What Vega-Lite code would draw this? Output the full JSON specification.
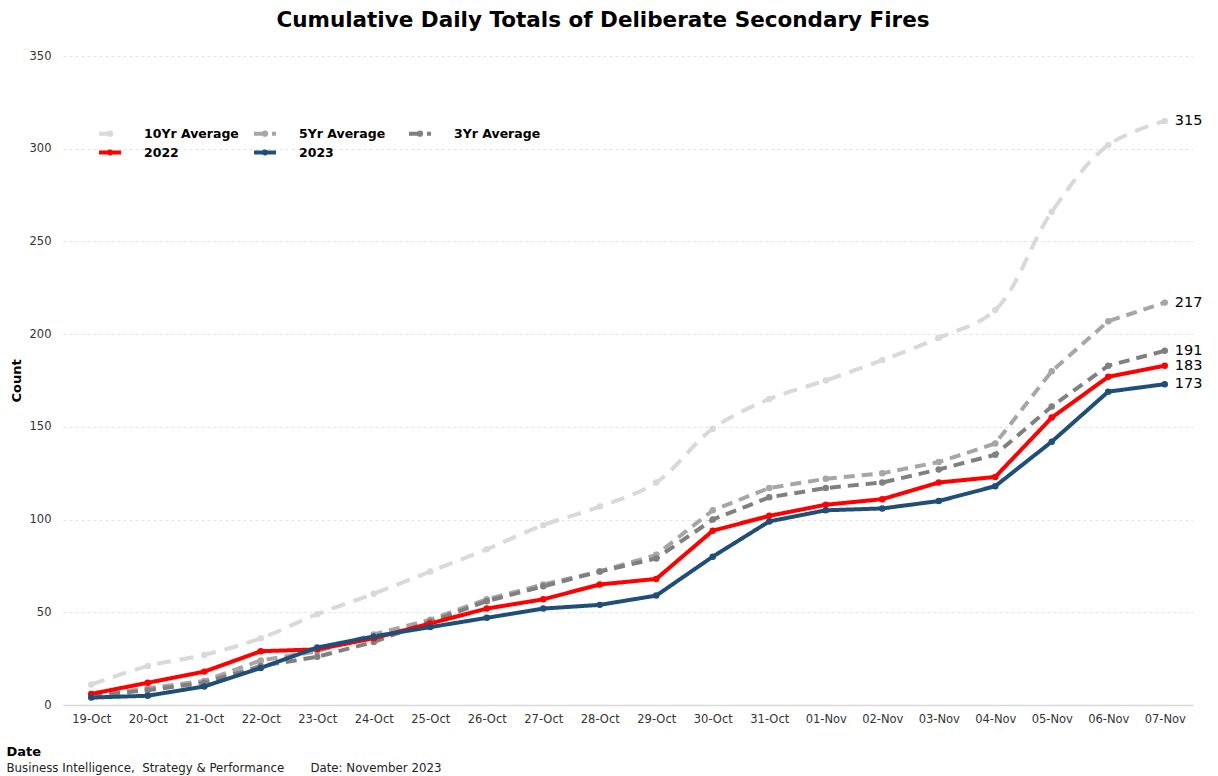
{
  "$schema": "https://vega.github.io/schema/vega-lite/v6.json",
  "width": 1130,
  "height": 649,
  "autosize": {"type": "none"},
  "padding": {"left": 63, "top": 56, "right": 25, "bottom": 71},
  "background": "white",
  "title": {"text": "Cumulative Daily Totals of Deliberate Secondary Fires", "font": "DejaVu Sans", "fontSize": 21.5, "fontWeight": "bold", "color": "#000000", "anchor": "middle", "dx": -25, "offset": 19},
  "config": {
    "view": {"stroke": null},
    "font": "DejaVu Sans",
    "legend": {
      "orient": "none", "legendX": 34, "legendY": 70, "columns": 3, "direction": "horizontal", "title": null,
      "gridAlign": "all",
      "labelFont": "DejaVu Sans", "labelFontSize": 12.5, "labelFontWeight": "bold", "labelColor": "#000000",
      "symbolType": "M-1,0H3M0.8,0a0.2,0.2 0 1,0 0.4,0a0.2,0.2 0 1,0 -0.4,0", "symbolSize": 121, "symbolStrokeWidth": 4,
      "symbolFillColor": "transparent",
      "columnPadding": 7, "rowPadding": 0, "labelOffset": 32
    }
  },
  "data": {"values": [
    {"date": "19-Oct", "10Yr Average": 11, "5Yr Average": 5, "3Yr Average": 5, "2022": 6, "2023": 4},
    {"date": "20-Oct", "10Yr Average": 21, "5Yr Average": 9, "3Yr Average": 8, "2022": 12, "2023": 5},
    {"date": "21-Oct", "10Yr Average": 27, "5Yr Average": 13, "3Yr Average": 12, "2022": 18, "2023": 10},
    {"date": "22-Oct", "10Yr Average": 36, "5Yr Average": 24, "3Yr Average": 21, "2022": 29, "2023": 20},
    {"date": "23-Oct", "10Yr Average": 49, "5Yr Average": 29, "3Yr Average": 26, "2022": 30, "2023": 31},
    {"date": "24-Oct", "10Yr Average": 60, "5Yr Average": 38, "3Yr Average": 34, "2022": 36, "2023": 37},
    {"date": "25-Oct", "10Yr Average": 72, "5Yr Average": 46, "3Yr Average": 45, "2022": 44, "2023": 42},
    {"date": "26-Oct", "10Yr Average": 84, "5Yr Average": 57, "3Yr Average": 56, "2022": 52, "2023": 47},
    {"date": "27-Oct", "10Yr Average": 97, "5Yr Average": 65, "3Yr Average": 64, "2022": 57, "2023": 52},
    {"date": "28-Oct", "10Yr Average": 107, "5Yr Average": 72, "3Yr Average": 72, "2022": 65, "2023": 54},
    {"date": "29-Oct", "10Yr Average": 120, "5Yr Average": 81, "3Yr Average": 79, "2022": 68, "2023": 59},
    {"date": "30-Oct", "10Yr Average": 149, "5Yr Average": 105, "3Yr Average": 100, "2022": 94, "2023": 80},
    {"date": "31-Oct", "10Yr Average": 165, "5Yr Average": 117, "3Yr Average": 112, "2022": 102, "2023": 99},
    {"date": "01-Nov", "10Yr Average": 175, "5Yr Average": 122, "3Yr Average": 117, "2022": 108, "2023": 105},
    {"date": "02-Nov", "10Yr Average": 186, "5Yr Average": 125, "3Yr Average": 120, "2022": 111, "2023": 106},
    {"date": "03-Nov", "10Yr Average": 198, "5Yr Average": 131, "3Yr Average": 127, "2022": 120, "2023": 110},
    {"date": "04-Nov", "10Yr Average": 213, "5Yr Average": 141, "3Yr Average": 135, "2022": 123, "2023": 118},
    {"date": "05-Nov", "10Yr Average": 266, "5Yr Average": 180, "3Yr Average": 161, "2022": 155, "2023": 142},
    {"date": "06-Nov", "10Yr Average": 302, "5Yr Average": 207, "3Yr Average": 183, "2022": 177, "2023": 169},
    {"date": "07-Nov", "10Yr Average": 315, "5Yr Average": 217, "3Yr Average": 191, "2022": 183, "2023": 173}
  ]},
  "transform": [{"fold": ["10Yr Average", "5Yr Average", "3Yr Average", "2022", "2023"], "as": ["series", "value"]}],
  "encoding": {
    "y": {
      "field": "value", "type": "quantitative",
      "scale": {"domain": [0, 350], "nice": false, "zero": true},
      "axis": {
        "title": "Count", "titleFontWeight": "bold", "titleFontSize": 13, "titleColor": "#000000", "titlePadding": 6,
        "values": [0, 50, 100, 150, 200, 250, 300, 350],
        "labelFontSize": 11.5, "labelColor": "#333333", "labelPadding": 12,
        "ticks": false, "domain": false, "grid": true, "gridColor": "#e3e3e3", "gridDash": [3, 3]
      }
    }
  },
  "layer": [
    {
      "transform": [{"filter": "datum.series != '10Yr Average'"}],
      "mark": {"type": "line", "strokeWidth": 4, "point": {"filled": true, "size": 42}},
      "encoding": {
        "x": {
          "field": "date", "type": "ordinal", "sort": null,
          "scale": {"type": "point", "padding": 0.5},
          "axis": {
            "title": "Date", "titleFontWeight": "bold", "titleFontSize": 13, "titleColor": "#000000",
            "titleAnchor": "start", "titleAlign": "left", "titleX": -57, "titleY": 50, "titleBaseline": "alphabetic",
            "labelAngle": 0, "labelFontSize": 11.5, "labelColor": "#333333", "labelPadding": 8,
            "ticks": false, "domainColor": "#d9d9d9", "domainWidth": 1.5, "grid": false
          }
        },
        "color": {
          "field": "series", "type": "nominal",
          "scale": {"domain": ["10Yr Average", "5Yr Average", "3Yr Average", "2022", "2023"], "range": ["#d9d9d9", "#a6a6a6", "#808080", "#ff0000", "#1f4e79"]}
        },
        "strokeDash": {
          "field": "series", "type": "nominal",
          "scale": {"domain": ["10Yr Average", "5Yr Average", "3Yr Average", "2022", "2023"], "range": [[14, 9], [11, 7], [11, 7], [1, 0], [1, 0]]}
        }
      }
    },
    {
      "transform": [{"filter": "datum.series == '10Yr Average'"}],
      "mark": {"type": "line", "strokeWidth": 4, "interpolate": "catmull-rom", "point": {"filled": true, "size": 42}},
      "encoding": {
        "x": {"field": "date", "type": "ordinal", "sort": null, "scale": {"type": "point", "padding": 0.5}, "axis": null},
        "color": {
          "field": "series", "type": "nominal",
          "scale": {"domain": ["10Yr Average", "5Yr Average", "3Yr Average", "2022", "2023"], "range": ["#d9d9d9", "#a6a6a6", "#808080", "#ff0000", "#1f4e79"]}
        },
        "strokeDash": {
          "field": "series", "type": "nominal",
          "scale": {"domain": ["10Yr Average", "5Yr Average", "3Yr Average", "2022", "2023"], "range": [[14, 9], [11, 7], [11, 7], [1, 0], [1, 0]]}
        }
      }
    },
    {
      "transform": [{"filter": "datum.date == '07-Nov'"}],
      "mark": {"type": "text", "align": "left", "baseline": "middle", "dx": 10, "fontSize": 14.5, "color": "#000000", "font": "DejaVu Sans"},
      "encoding": {
        "x": {
          "field": "date", "type": "ordinal", "sort": null, "scale": {"type": "point", "padding": 0.5},
          "axis": {
            "orient": "bottom", "labels": false, "ticks": false, "domain": false, "grid": false,
            "title": "Business Intelligence,\u00a0 Strategy & Performance\u00a0\u00a0\u00a0\u00a0\u00a0\u00a0 Date:\u00a0November 2023",
            "titleFontWeight": "normal", "titleFontSize": 11.8, "titleColor": "#222222",
            "titleAnchor": "start", "titleAlign": "left", "titleX": -57, "titleY": 66, "titleBaseline": "alphabetic"
          }
        },
        "text": {"field": "value", "type": "quantitative"}
      }
    }
  ],
  "resolve": {"axis": {"x": "independent"}}
}
